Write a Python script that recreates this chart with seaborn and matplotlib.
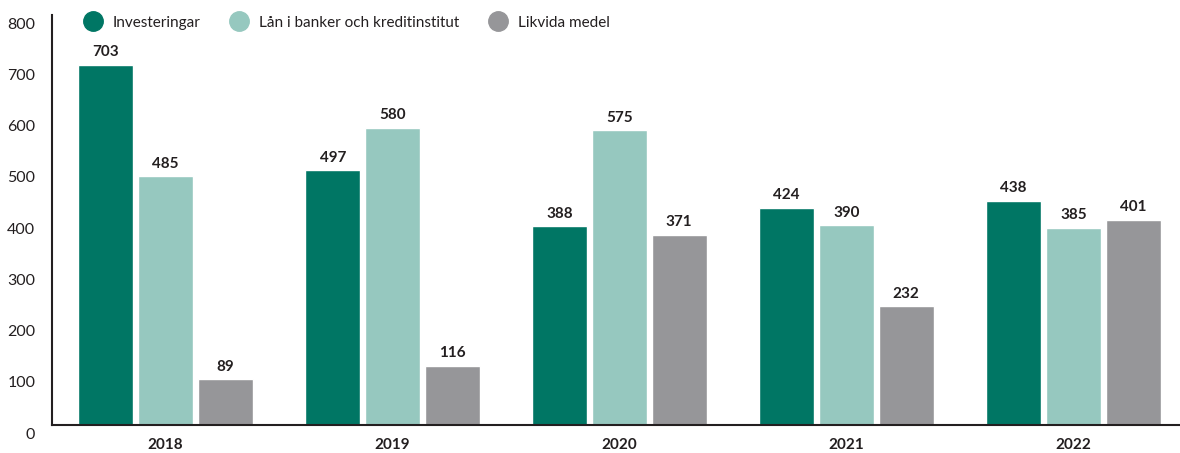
import pandas as pd
import matplotlib
matplotlib.use("Agg")
import matplotlib.pyplot as plt
import matplotlib.transforms as mtransforms
from matplotlib.lines import Line2D
import seaborn as sns

years = ["2018", "2019", "2020", "2021", "2022"]
series = ["Investeringar", "Lån i banker och kreditinstitut", "Likvida medel"]
investeringar = [703, 497, 388, 424, 438]
lan = [485, 580, 575, 390, 385]
likvida = [89, 116, 371, 232, 401]
colors = ["#007664", "#96c8bf", "#969699"]

df = pd.DataFrame({
    "year": years * 3,
    "serie": [series[0]] * 5 + [series[1]] * 5 + [series[2]] * 5,
    "value": investeringar + lan + likvida,
})

sns.set_style("white")
plt.rcParams["font.family"] = ["Lato", "DejaVu Sans"]
ink = "#231f20"

fig = plt.figure(figsize=(11.8, 4.53), dpi=100)
ax = fig.add_axes([0.0441, 0.0618, 0.9559, 0.905])

sns.barplot(data=df, x="year", y="value", hue="serie", palette=colors,
            width=0.79, gap=0.08, saturation=1, ax=ax, legend=False)

for c in ax.containers:
    ax.bar_label(c, fmt="%d", padding=4, fontsize=11, fontweight="bold", color=ink)

ax.set_xlim(-0.5, 4.47)
ax.set_ylim(0, 800)
ax.set_yticks(range(0, 801, 100))
ax.set_xlabel("")
ax.set_ylabel("")

for s in ["top", "right"]:
    ax.spines[s].set_visible(False)
for s in ["left", "bottom"]:
    ax.spines[s].set_color(ink)
    ax.spines[s].set_linewidth(1.5)

ax.tick_params(axis="y", direction="inout", length=6, width=1.5, color=ink,
               pad=9, labelsize=11.5, labelcolor=ink)
ax.tick_params(axis="x", which="major", length=0, pad=9, labelsize=11, labelcolor=ink)
ax.set_xticks([0.5, 1.5, 2.5, 3.5], minor=True)
ax.tick_params(axis="x", which="minor", direction="in", length=7, width=1.5, color=ink)
for t in ax.get_xticklabels():
    t.set_fontweight("bold")

# y labels sit a bit below their ticks
off = mtransforms.ScaledTranslation(0, -0.08, fig.dpi_scale_trans)
for t in ax.get_yticklabels():
    t.set_transform(t.get_transform() + off)

handles = [Line2D([], [], marker="o", linestyle="", markersize=14,
                  markerfacecolor=c, markeredgecolor=c) for c in colors]
ax.legend(handles, series, ncol=3, frameon=False, loc="center left",
          bbox_to_anchor=(0.072, 0.950), bbox_transform=fig.transFigure,
          fontsize=11, handlelength=1.0, handletextpad=0.8, columnspacing=2.05,
          labelcolor=ink, borderaxespad=0, borderpad=0)

plt.savefig("out.png", dpi=100)
plt.close()
